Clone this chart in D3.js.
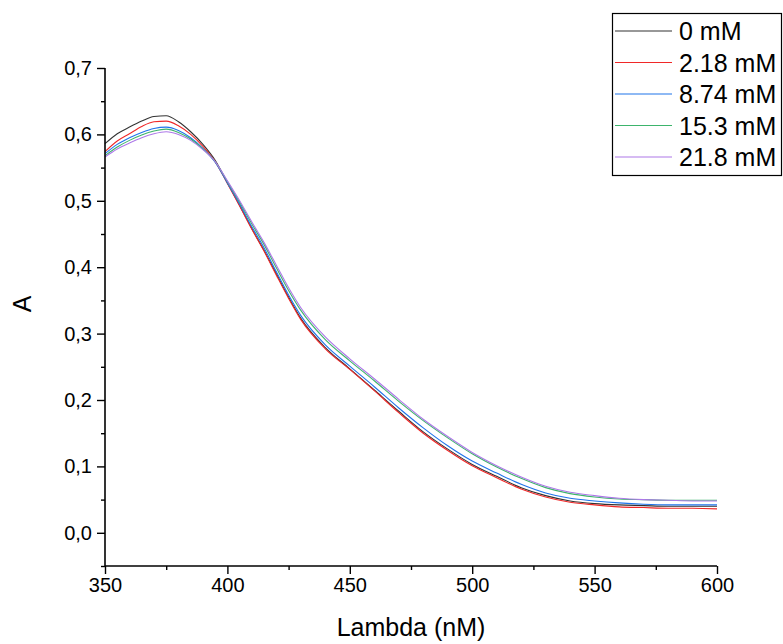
<!DOCTYPE html>
<html>
<head>
<meta charset="utf-8">
<script src="https://cdn.jsdelivr.net/npm/d3@7"></script>
<style>
  body { margin: 0; background: #fff; }
  text { font-family: "Liberation Sans", Arial, sans-serif; fill: #000; }
</style>
</head>
<body>
<div id="chart"></div>
<script>
// Bước sóng (nm) dùng chung cho mọi đường
const lambda = [350, 355, 360, 365, 370, 375, 380, 385, 390, 395, 400, 405, 410, 415, 420, 425, 430,
                440, 450, 460, 470, 480, 490, 500, 510, 520, 530, 540, 550, 560, 570, 580, 590, 600];

const a0 = [0.586, 0.601, 0.611, 0.620, 0.627, 0.628, 0.619, 0.604, 0.585, 0.561, 0.527, 0.493, 0.458, 0.425, 0.390, 0.355, 0.323,
            0.279, 0.247, 0.215, 0.183, 0.152, 0.126, 0.103, 0.085, 0.068, 0.056, 0.048, 0.044, 0.042, 0.041, 0.040, 0.040, 0.040];
const a218 = [0.574, 0.590, 0.601, 0.612, 0.619, 0.620, 0.613, 0.600, 0.582, 0.559, 0.526, 0.492, 0.457, 0.424, 0.388, 0.353, 0.321,
              0.277, 0.246, 0.214, 0.181, 0.150, 0.124, 0.101, 0.083, 0.066, 0.054, 0.046, 0.042, 0.039, 0.038, 0.037, 0.037, 0.036];
const a874 = [0.571, 0.585, 0.595, 0.603, 0.609, 0.611, 0.606, 0.595, 0.579, 0.558, 0.527, 0.495, 0.461, 0.429, 0.393, 0.358, 0.327,
              0.283, 0.251, 0.220, 0.188, 0.158, 0.131, 0.108, 0.090, 0.073, 0.060, 0.052, 0.048, 0.045, 0.043, 0.042, 0.042, 0.042];
const a153 = [0.568, 0.581, 0.591, 0.599, 0.605, 0.608, 0.603, 0.593, 0.578, 0.559, 0.529, 0.498, 0.465, 0.434, 0.399, 0.365, 0.335,
              0.291, 0.259, 0.229, 0.198, 0.169, 0.143, 0.119, 0.099, 0.082, 0.068, 0.059, 0.054, 0.051, 0.050, 0.049, 0.049, 0.049];
const a218b = [0.566, 0.578, 0.587, 0.595, 0.601, 0.604, 0.600, 0.591, 0.577, 0.559, 0.530, 0.500, 0.468, 0.437, 0.403, 0.369, 0.339,
               0.295, 0.262, 0.232, 0.201, 0.171, 0.145, 0.121, 0.101, 0.084, 0.070, 0.061, 0.056, 0.052, 0.050, 0.049, 0.048, 0.048];

const seriesNames = ["0 mM", "2.18 mM", "8.74 mM", "15.3 mM", "21.8 mM"];
const seriesValues = [a0, a218, a874, a153, a218b];
const seriesColors = ["#333333", "#f02828", "#1f74ea", "#3db46c", "#ad78e8"];

const xTicks = [350, 400, 450, 500, 550, 600];
const xMinor = [375, 425, 475, 525, 575];
const yTicks = [0.0, 0.1, 0.2, 0.3, 0.4, 0.5, 0.6, 0.7];
const yMinor = [-0.05, 0.05, 0.15, 0.25, 0.35, 0.45, 0.55, 0.65];

const W = 783, H = 644;
const margin = { top: 68, right: 66, bottom: 78, left: 105 };
const width = W - margin.left - margin.right,
      height = H - margin.top - margin.bottom;

const svg = d3.select("#chart").append("svg")
    .attr("width", W)
    .attr("height", H);

const g = svg.append("g")
    .attr("transform", `translate(${margin.left},${margin.top})`);

const x = d3.scaleLinear().domain([350, 600]).range([0, width]);
const y = d3.scaleLinear().domain([-0.05, 0.7]).range([height, 0]);

// Các đường phổ
const line = d3.line()
    .x((d, i) => x(lambda[i]))
    .y(d => y(d))
    .curve(d3.curveMonotoneX);

seriesValues.forEach((vals, k) => {
    g.append("path")
        .datum(vals)
        .attr("fill", "none")
        .attr("stroke", seriesColors[k])
        .attr("stroke-width", 1.1)
        .attr("d", line);
});

// Trục X
const fmtComma = d => d3.format(".1f")(d).replace(".", ",");
const xAxis = g.append("g")
    .attr("transform", `translate(0,${height})`)
    .call(d3.axisBottom(x).tickValues(xTicks).tickSize(8).tickPadding(4).tickFormat(d3.format("d")));
g.append("g")
    .attr("transform", `translate(0,${height})`)
    .call(d3.axisBottom(x).tickValues(xMinor).tickSize(4).tickFormat(""))
    .call(s => s.select(".domain").remove());

// Trục Y
const yAxis = g.append("g")
    .call(d3.axisLeft(y).tickValues(yTicks).tickSize(8).tickPadding(5).tickFormat(fmtComma));
g.append("g")
    .call(d3.axisLeft(y).tickValues(yMinor).tickSize(4).tickFormat(""))
    .call(s => s.select(".domain").remove());

g.selectAll(".domain").attr("stroke-width", 1.6);
xAxis.select(".domain").attr("d", `M0,0H${width}`);
yAxis.select(".domain").attr("d", `M0,${height}V0`);
g.selectAll(".tick line").attr("stroke-width", 1.4);
g.selectAll(".tick text").style("font-size", "20px").attr("fill", "#000");

// Nhãn trục
svg.append("text")
    .attr("x", margin.left + width / 2)
    .attr("y", 636)
    .attr("text-anchor", "middle")
    .style("font-size", "25px")
    .text("Lambda (nM)");

svg.append("text")
    .attr("transform", `translate(31,${304}) rotate(-90)`)
    .attr("text-anchor", "middle")
    .style("font-size", "25px")
    .text("A");

// Chú thích
const legend = svg.append("g");
legend.append("rect")
    .attr("x", 612.5).attr("y", 13.5)
    .attr("width", 169).attr("height", 162)
    .attr("fill", "#fff")
    .attr("stroke", "#000")
    .attr("stroke-width", 1.2);

seriesNames.forEach((name, k) => {
    const yy = 31 + k * 31.5;
    legend.append("line")
        .attr("x1", 615).attr("x2", 672)
        .attr("y1", yy).attr("y2", yy)
        .attr("stroke", seriesColors[k])
        .attr("stroke-width", 1.1);
    legend.append("text")
        .attr("x", 679)
        .attr("y", yy + 9)
        .style("font-size", "25px")
        .text(name);
});
</script>
</body>
</html>
